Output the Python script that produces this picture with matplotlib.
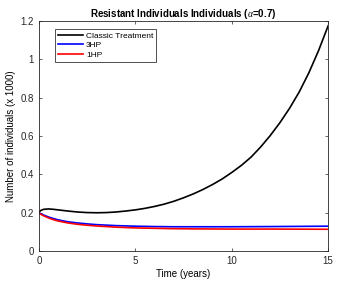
import numpy as np
import matplotlib.pyplot as plt

plt.rcParams['font.family'] = ['Liberation Sans', 'DejaVu Sans']
plt.rcParams['mathtext.fontset'] = 'custom'
plt.rcParams['mathtext.it'] = 'Liberation Serif:italic'

# values (x 1000 individuals)
t_classic = [0, 0.1, 0.25, 0.5, 0.75, 1.0, 1.5, 2.0, 2.5, 3.0, 3.5, 4.0,
             4.5, 5.0, 5.5, 6.0, 6.5, 7.0, 7.5, 8.0, 8.5, 9.0, 9.5, 10.0,
             10.5, 11.0, 11.5, 12.0, 12.5, 13.0, 13.5, 14.0, 14.5, 15.0]
classic = [0.203, 0.212, 0.218, 0.220, 0.218, 0.215, 0.209, 0.204, 0.201,
           0.200, 0.201, 0.204, 0.209, 0.215, 0.223, 0.233, 0.245, 0.260,
           0.278, 0.298, 0.321, 0.347, 0.376, 0.410, 0.447, 0.490, 0.543,
           0.603, 0.670, 0.745, 0.830, 0.930, 1.045, 1.175]

t_hp = [0, 0.1, 0.25, 0.5, 0.75, 1, 1.5, 2, 2.5, 3, 4, 5, 6, 7, 8, 10,
        12, 15]
hp3 = [0.200, 0.195, 0.188, 0.178, 0.170, 0.163, 0.153, 0.147, 0.142,
       0.138, 0.133, 0.130, 0.128, 0.127, 0.127, 0.127, 0.128, 0.130]
hp1 = [0.198, 0.192, 0.184, 0.173, 0.164, 0.157, 0.147, 0.140, 0.135,
       0.131, 0.125, 0.121, 0.119, 0.117, 0.116, 0.115, 0.115, 0.114]

fig = plt.figure(figsize=(3.44, 2.87), dpi=100)
ax = fig.add_axes([0.113, 0.125, 0.841, 0.802])

ax.plot(t_classic, classic, color='black', lw=1.2, label='Classic Treatment')
ax.plot(t_hp, hp3, color='blue', lw=1.2, label='3HP')
ax.plot(t_hp, hp1, color='red', lw=1.2, label='1HP')

ax.set_xlim(0, 15)
ax.set_ylim(0, 1.2)
ax.set_xticks([0, 5, 10, 15])
ax.set_yticks([0, 0.2, 0.4, 0.6, 0.8, 1, 1.2])
ax.set_yticklabels(['0', '0.2', '0.4', '0.6', '0.8', '1', '1.2'])
ax.tick_params(direction='in', top=True, right=True, labelsize=7,
               length=2.5, width=0.5, colors='#262626')
for s in ax.spines.values():
    s.set_linewidth(0.6)
    s.set_color('#262626')

ax.set_xlabel('Time (years)', fontsize=7, labelpad=2)
ax.set_ylabel('Number of individuals (x 1000)', fontsize=7, labelpad=3)
ax.set_title(r'Resistant Individuals Individuals ($\alpha$=0.7)',
             fontsize=7, fontweight='bold', pad=3)

leg = ax.legend(loc='upper left', bbox_to_anchor=(0.055, 0.965), fontsize=6,
                frameon=True, fancybox=False, edgecolor='black',
                handlelength=3.0, handletextpad=0.4, borderpad=0.35,
                labelspacing=0.2, borderaxespad=0)
leg.get_frame().set_linewidth(0.6)

fig.savefig('out.png', dpi=100)
